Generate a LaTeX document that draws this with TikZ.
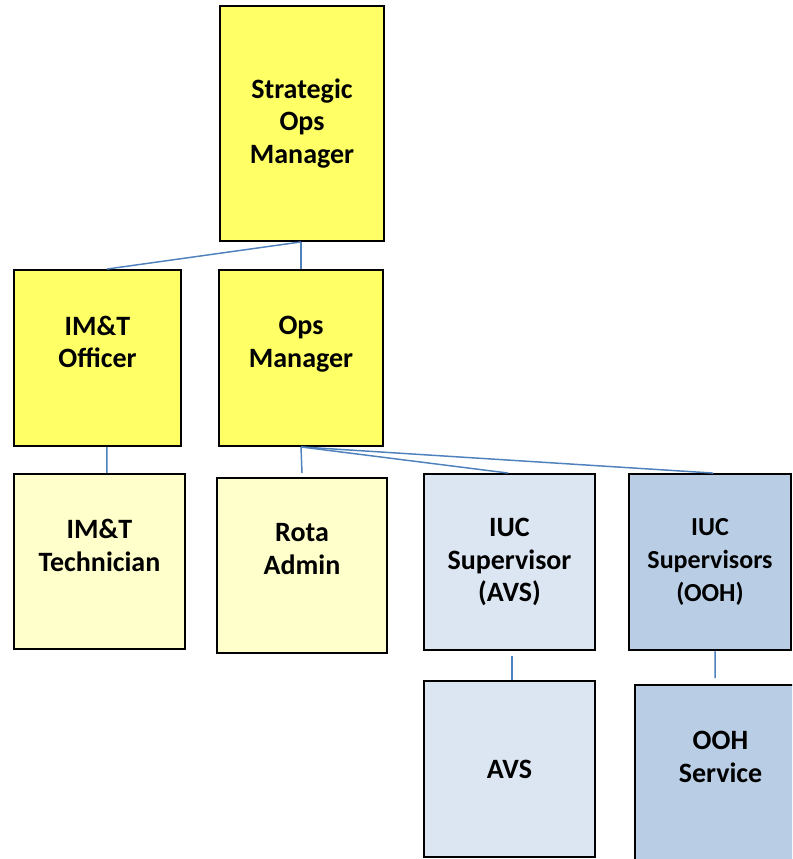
\documentclass[tikz,border=0pt]{standalone}
\usepackage{fontspec}
\setmainfont{Carlito}
\usetikzlibrary{calc}
\definecolor{ybright}{HTML}{FFFF66}
\definecolor{ylight}{HTML}{FFFFCC}
\definecolor{blight}{HTML}{DCE6F2}
\definecolor{bmid}{HTML}{B9CDE5}
\definecolor{conn}{HTML}{4F81BD}
\tikzset{
  box/.style={draw=black, line width=1.4pt, align=center, inner sep=0pt,
    font=\fontsize{21}{24.5}\selectfont\bfseries},
  smallbox/.style={box, font=\fontsize{19.5}{25}\selectfont\bfseries},
  link/.style={draw=conn, line width=1.1pt},
}
\begin{document}
\begin{tikzpicture}[x=0.75pt,y=-0.75pt]
\useasboundingbox (0,0) rectangle (792,859);
\clip (0,0) rectangle (792,859);
\fill[white] (0,0) rectangle (792,859);
\node[box, fill=ybright, minimum width=123pt, minimum height=176.25pt] (strat) at (302,123.5) {Strategic\\Ops\\Manager};
\node[box, fill=ybright, minimum width=125.25pt, minimum height=132pt] (imto) at (97.5,358) {IM\&T\\Officer\\\mbox{}};
\node[box, fill=ybright, minimum width=123pt, minimum height=132pt] (opsm) at (301,358) {Ops\\Manager\\\mbox{}};
\node[box, fill=ylight, minimum width=128.25pt, minimum height=131.25pt] (imtt) at (99.5,561.5) {IM\&T\\Technician\\\mbox{}};
\node[box, fill=ylight, minimum width=127.5pt, minimum height=131.25pt] (rota) at (302,565.5) {Rota\\Admin\\\mbox{}};
\node[box, fill=blight, minimum width=128.25pt, minimum height=132pt] (iucavs) at (509.5,562) {IUC\\Supervisor\\(AVS)};
\node[smallbox, fill=bmid, minimum width=121.5pt, minimum height=132pt] (iucooh) at (710,562) {IUC\\Supervisors\\(OOH)};
\node[box, fill=blight, minimum width=128.25pt, minimum height=132pt] (avs) at (509.5,769) {AVS};
\node[box, fill=bmid, minimum width=128.25pt, minimum height=132pt] (oohs) at (720.5,773) {OOH\\Service\\\mbox{}};
% connectors
\draw[link] ([xshift=-0.75pt]strat.south) -- ([xshift=7pt]imto.north);
\draw[link] ([xshift=-0.75pt]strat.south) -- (opsm.north);
\draw[link] ([xshift=7pt]imto.south) -- ([xshift=5.6pt]imtt.north);
\draw[link] (opsm.south) -- ([yshift=3pt]rota.north);
\draw[link] (opsm.south) -- ([xshift=-1pt]iucavs.north);
\draw[link] (opsm.south) -- ([xshift=2.3pt]iucooh.north);
\draw[link] ([xshift=2pt,yshift=-3.7pt]iucavs.south) -- ([xshift=2pt]avs.north);
\draw[link] ([xshift=3.75pt]iucooh.south) -- ([xshift=-4pt,yshift=4.5pt]oohs.north);
\end{tikzpicture}
\end{document}
